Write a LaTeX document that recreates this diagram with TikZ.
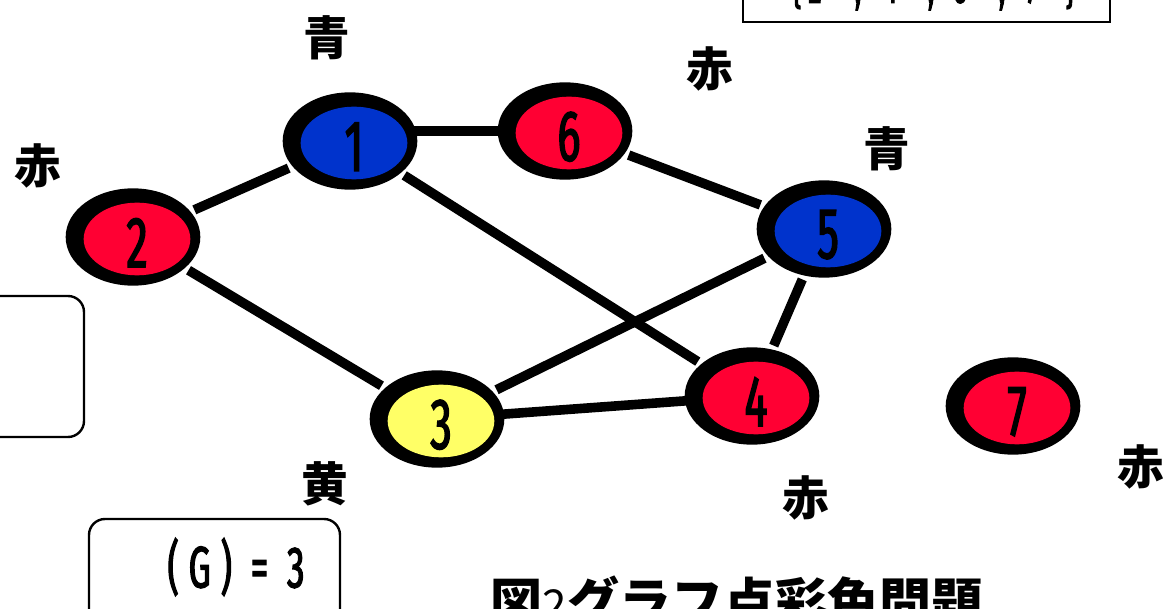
\documentclass[tikz,border=0pt]{standalone}
\usepackage{fontspec}
\newfontfamily\cjk{Noto Sans CJK JP}
\newfontfamily\numfont{Fira Sans}[FakeStretch=0.6,FakeBold=2]
\usetikzlibrary{shapes.geometric,backgrounds}
\definecolor{vblue}{RGB}{0,51,204}
\definecolor{vred}{RGB}{255,0,51}
\definecolor{vyellow}{RGB}{255,255,102}
\tikzset{
  outerv/.style={ellipse, fill=black, minimum width=101pt, minimum height=73pt, inner sep=0pt},
  innerv/.style={ellipse, minimum width=80pt, minimum height=54.5pt, inner sep=0pt},
  numlab/.style={font=\numfont\fontsize{54}{54}\selectfont, inner sep=0pt},
  gedge/.style={line width=7.2pt, shorten <=3pt, shorten >=3pt},
  clab/.style={font=\cjk\bfseries\fontsize{35}{35}\selectfont, inner sep=0pt},
  setlab/.style={font=\numfont\fontsize{34}{34}\selectfont, anchor=base, inner sep=0pt},
  infobox/.style={draw=black, line width=1.8pt},
}
\newcommand\vtx[5]{%
  \node[outerv] (#1) at (#2,#3) {};
  \node[innerv, fill=#4] (#1i) at ([xshift=3pt,yshift=-1.5pt]#1.center) {};
  \node[numlab] (#1n) at ([yshift=-2.8pt]#1i.center) {#5};
}
\begin{document}
\begin{tikzpicture}[x=0.75pt,y=-0.75pt]
\useasboundingbox (0,0) rectangle (1167,609);
\clip (0,0) rectangle (1167,609);

% vertices
\vtx{v1}{350}{141}{vblue}{1}
\vtx{v6}{565}{131}{vred}{6}
\vtx{v2}{133}{237}{vred}{2}
\vtx{v5}{824}{229}{vblue}{5}
\vtx{v3}{437}{419}{vyellow}{3}
\vtx{v4}{752}{396}{vred}{4}
\vtx{v7}{1013}{406}{vred}{7}

% edges
\begin{pgfonlayer}{background}
\fill[white] (0,0) rectangle (1167,609);
\draw[gedge] (v1) -- (v2);
\draw[gedge, shorten <=0pt, shorten >=0pt] (v1.center |- v6.center) -- (v6.center);
\draw[gedge] (v1) -- (v4);
\draw[gedge] (v6) -- (v5);
\draw[gedge] (v5) -- (v3);
\draw[gedge] (v5) -- (v4);
\draw[gedge] (v2) -- (v3);
\draw[gedge, shorten <=0pt, shorten >=0pt] (v3.center) -- (v4.center);
\end{pgfonlayer}

% colour labels
\node[clab] (l1) at (327,38) {青};
\node[clab] (l6) at (710,69) {赤};
\node[clab] (l5) at (887,149) {青};
\node[clab] (l2) at (38,166) {赤};
\node[clab] (l3) at (325,484) {黄};
\node[clab] (l4) at (806,498) {赤};
\node[clab] (l7) at (1141,467) {赤};

% set box (cut at the top)
\draw[infobox] (743,-20) rectangle (1110,22);
\node[setlab] (s1) at (797,3) {\{};
\node[setlab] (s2) at (815,3) {2};
\node[setlab] (s3) at (858,3) {,};
\node[setlab] (s4) at (890,3) {4};
\node[setlab] (s5) at (931,3) {,};
\node[setlab] (s6) at (960,3) {6};
\node[setlab] (s7) at (1002,3) {,};
\node[setlab] (s8) at (1032,3) {7};
\node[setlab] (s9) at (1070,3) {\}};

% side boxes
\draw[infobox, rounded corners=12pt] (-30,296) rectangle (84,437);
\draw[infobox, rounded corners=12pt] (89,519) rectangle (340,640);
\node[font=\numfont\fontsize{44}{44}\selectfont, inner sep=0pt] (chi) at (236,567) {(\,G\,)\ \ =\ \ 3};

% title
\node[font=\cjk\bfseries\fontsize{39}{39}\selectfont, inner sep=0pt] (title) at (737,601) {図{\mdseries\fontsize{33}{33}\selectfont 2}グラフ点彩色問題};
\end{tikzpicture}
\end{document}
